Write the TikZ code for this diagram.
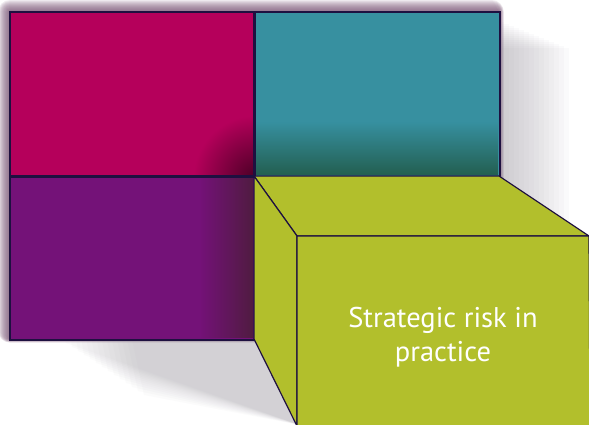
\documentclass[tikz,border=0pt]{standalone}
\usepackage{fontspec}
\setmainfont{PT Sans}
\usetikzlibrary{fadings}
\definecolor{cmag}{RGB}{181,0,91}
\definecolor{cteal}{RGB}{55,144,160}
\definecolor{ctealdk}{RGB}{35,95,80}
\definecolor{cpur}{RGB}{116,18,120}
\definecolor{cpurdk}{RGB}{80,28,65}
\definecolor{cgreen}{RGB}{178,191,44}
\definecolor{cline}{RGB}{30,16,64}
\definecolor{chalo}{RGB}{115,75,110}
\definecolor{cgrey}{RGB}{150,145,155}
\tikzfading[name=softdisc, inner color=transparent!0, outer color=transparent!100]
\tikzset{
  tile/.style={draw=cline, line width=1.2pt, line join=miter},
  face/.style={draw=cline, line width=1.2pt, fill=cgreen, line join=miter},
  label/.style={text=white, font=\fontsize{28.5}{34}\selectfont, align=center}
}
\begin{document}
\begin{tikzpicture}[x=1pt,y=-1pt]
\useasboundingbox (0,0) rectangle (589,425);
\fill[white] (0,0) rectangle (589,425);
% soft halo
\foreach \i in {1,...,12}{
  \fill[chalo, opacity=0.1, rounded corners=\i pt] (10-\i,12-\i) rectangle (499+0.4*\i,339+0.3*\i);
}
% grey drop shadow right and bottom
\foreach \i in {1,...,14}{
  \fill[cgrey, opacity=0.04] (254,20+2*\i) -- (499+5*\i,20+2*\i) -- (499+5*\i,260) -- (254,260) -- cycle;
  \fill[cgrey, opacity=0.03] (60+5*\i,330) -- (254,330) -- (300,425) -- (60+6*\i,339+4*\i) -- cycle;
}
% tiles
\node[tile, fill=cmag, minimum width=244pt, minimum height=164pt, inner sep=0pt, anchor=north west] (mag) at (10,12) {};
\node[tile, fill=cteal, minimum width=245pt, minimum height=164pt, inner sep=0pt, anchor=north west] (teal) at (254,12) {};
\node[tile, fill=cpur, minimum width=244pt, minimum height=163pt, inner sep=0pt, anchor=north west] (pur) at (10,176) {};
% inner shading
\fill[ctealdk, path fading=north] (254.6,122) rectangle (498.4,175.4);
\fill[cpurdk, path fading=west] (200,176.6) rectangle (253.4,338.4);
\begin{scope}
  \clip (10.6,12.6) rectangle (253.4,175.4);
  \fill[black!70!cmag, path fading=softdisc, opacity=0.85] (256,178) circle (62);
\end{scope}
% redraw tile outlines
\draw[tile] (mag.north west) rectangle (mag.south east);
\draw[tile] (teal.north west) rectangle (teal.south east);
\draw[tile] (pur.north west) rectangle (pur.south east);
% cube
\coordinate (a) at (254,176);
\coordinate (b) at (499,176);
\coordinate (c) at (589,236);
\coordinate (d) at (297,236);
\coordinate (e) at (297,426);
\coordinate (f) at (254,339);
\coordinate (g) at (590,426);
\fill[cgreen] (a) -- (b) -- (c) -- (g) -- (e) -- (f) -- cycle;
\draw[face] (a) -- (b) -- (c) -- (d) -- cycle;
\draw[face] (a) -- (d) -- (e) -- (f) -- cycle;
\draw[face] (d) -- (c) -- (g) -- (e) -- cycle;
\node[label] (txt) at (443,337) {Strategic risk in\\practice};
\end{tikzpicture}
\end{document}
